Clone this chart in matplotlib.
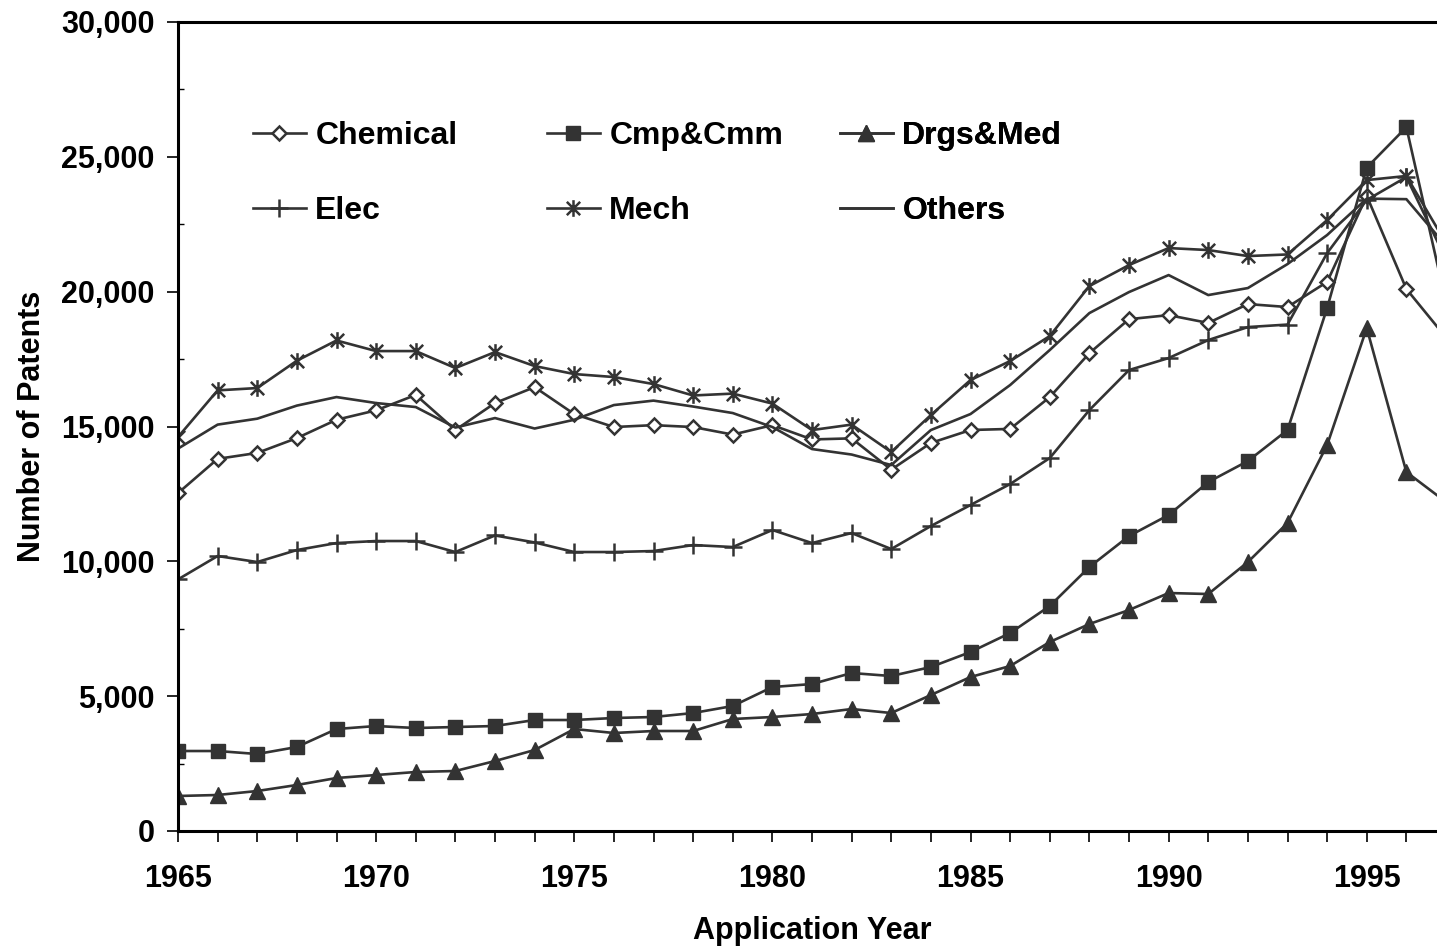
import matplotlib
matplotlib.use("Agg")
import matplotlib.pyplot as plt
from matplotlib.path import Path
from matplotlib.ticker import FuncFormatter, MultipleLocator

plt.rcParams['font.family'] = ['Liberation Sans', 'DejaVu Sans']
plt.rcParams['font.weight'] = 'bold'

years = list(range(1965, 1998))

chemical = [12530, 13800, 14020, 14570, 15250, 15600, 16170, 14870, 15870, 16460,
            15460, 14980, 15050, 14980, 14700, 15050, 14520, 14560, 13400, 14390,
            14870, 14910, 16090, 17720, 18980, 19130, 18840, 19540, 19430, 20360,
            23550, 20100, 18300]
cmp_cmm = [2966, 2966, 2855, 3115, 3782, 3893, 3819, 3856, 3893, 4116,
           4116, 4190, 4227, 4375, 4635, 5339, 5450, 5858, 5747, 6081,
           6637, 7341, 8343, 9789, 10938, 11717, 12940, 13719, 14868, 19392,
           24600, 26100, 19600]
drgs_med = [1298, 1335, 1483, 1706, 1965, 2076, 2188, 2225, 2595, 3003,
            3782, 3634, 3708, 3708, 4153, 4227, 4338, 4524, 4375, 5043,
            5710, 6118, 7008, 7675, 8194, 8825, 8788, 9974, 11420, 14312,
            18650, 13311, 12200]
elec = [9330, 10197, 9974, 10419, 10678, 10753, 10753, 10345, 10960, 10700,
        10345, 10345, 10382, 10604, 10530, 11161, 10678, 11049, 10456, 11309,
        12088, 12866, 13830, 15610, 17093, 17538, 18205, 18687, 18780, 21430,
        23400, 24250, 21200]
mech = [14609, 16340, 16426, 17440, 18190, 17797, 17797, 17167, 17760, 17241,
        16945, 16834, 16574, 16150, 16220, 15850, 14868, 15070, 14053, 15425,
        16722, 17427, 18354, 20208, 20986, 21617, 21543, 21320, 21380, 22655,
        24138, 24290, 21800]
others = [14180, 15070, 15290, 15775, 16092, 15870, 15721, 14960, 15313, 14925,
          15250, 15795, 15960, 15740, 15499, 14980, 14164, 13960, 13571, 14868,
          15462, 16537, 17835, 19206, 19985, 20615, 19874, 20134, 21023, 22100,
          23450, 23430, 21700]

labels = ['Chemical', 'Cmp&Cmm', 'Drgs&Med', 'Elec', 'Mech', 'Others']

LINE = '#333333'
FS = 22

# Excel-style star: an X with a vertical bar
star = Path([(-1, -1), (1, 1), (-1, 1), (1, -1), (0, -1.25), (0, 1.25)],
            [Path.MOVETO, Path.LINETO, Path.MOVETO, Path.LINETO,
             Path.MOVETO, Path.LINETO])

fig = plt.figure(figsize=(14.37, 9.52), dpi=100)
ax = fig.add_axes([178 / 1437, 121 / 952, 1268 / 1437, 809 / 952])

lw = 1.9
h_chem, = ax.plot(years, chemical, color=LINE, lw=lw, marker='D', ms=7.5,
                  mfc='white', mec=LINE, mew=1.8, label=labels[0])
h_cmp, = ax.plot(years, cmp_cmm, color=LINE, lw=lw, marker='s', ms=10,
                 mfc=LINE, mec=LINE, label=labels[1])
h_drg, = ax.plot(years, drgs_med, color=LINE, lw=lw, marker='^', ms=11,
                 mfc=LINE, mec=LINE, label=labels[2])
h_ele, = ax.plot(years, elec, color=LINE, lw=lw, marker='+', ms=13,
                 mec=LINE, mew=1.8, label=labels[3])
h_mec, = ax.plot(years, mech, color=LINE, lw=lw, marker=star, ms=12,
                 mec=LINE, mew=1.8, label=labels[4])
h_oth, = ax.plot(years, others, color=LINE, lw=lw, label=labels[5])

ax.set_xlim(1965, 1997)
ax.set_ylim(0, 30000)

ax.set_xticks(years)
ax.set_xticklabels([str(y) if y % 5 == 0 else '' for y in years])
ax.yaxis.set_major_locator(MultipleLocator(5000))
ax.yaxis.set_minor_locator(MultipleLocator(2500))
ax.yaxis.set_major_formatter(FuncFormatter(lambda v, p: f'{int(v):,}'))

ax.tick_params(axis='both', which='major', direction='out', length=8,
               width=1.2, labelsize=FS, color='black')
ax.tick_params(axis='y', which='major', pad=9)
ax.tick_params(axis='x', which='major', pad=16)
ax.tick_params(axis='y', which='minor', direction='in', length=4, width=1)

for s in ax.spines.values():
    s.set_linewidth(2.2)
    s.set_color('black')

ax.set_xlabel('Application Year', fontsize=FS, fontweight='bold')
ax.set_ylabel('Number of Patents', fontsize=FS, fontweight='bold')
ax.xaxis.set_label_coords(0.5, -0.105)
ax.yaxis.set_label_coords(-0.103, 0.5)

# legend: three columns placed like the Excel layout
cols = [([h_chem, h_ele], 253), ([h_cmp, h_mec], 547), ([h_drg, h_oth], 840)]
for hs, xpix in cols:
    leg = ax.legend(handles=hs, loc='upper left',
                    bbox_to_anchor=(xpix / 1437, (952 - 121) / 952),
                    bbox_transform=fig.transFigure, frameon=False,
                    handlelength=1.65, handletextpad=0.3,
                    labelspacing=1.42, borderpad=0, borderaxespad=0,
                    prop={'weight': 'bold', 'size': 23})
    ax.add_artist(leg)

fig.savefig('out.png', dpi=100)
